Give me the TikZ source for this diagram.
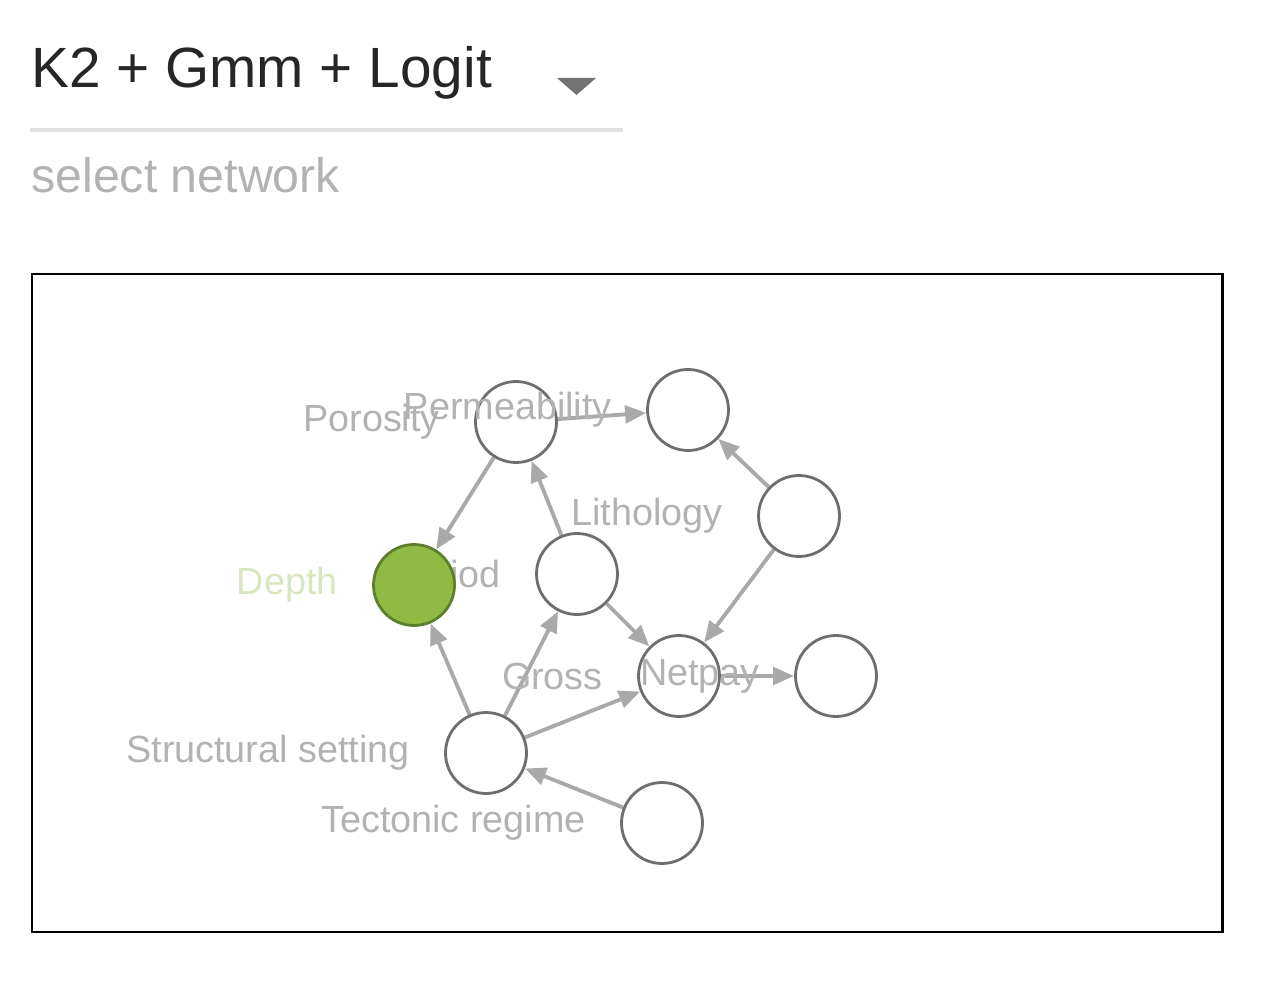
\documentclass[tikz,border=0pt]{standalone}
\usepackage{fontspec}
\setmainfont{Liberation Sans}
\usetikzlibrary{positioning,arrows.meta}

\definecolor{edgegray}{HTML}{A9A9A9}
\definecolor{rimgray}{HTML}{6E6E6E}
\definecolor{textgray}{HTML}{B2B2B2}
\definecolor{leaf}{HTML}{8FBA43}
\definecolor{leafrim}{HTML}{5E7F2C}
\definecolor{leaftext}{HTML}{D8E6BF}

\pgfdeclarelayer{background}
\pgfsetlayers{background,main}

\tikzset{
  var/.style={circle, draw=rimgray, fill=white, line width=1.6pt, minimum size=1.62cm, inner sep=0pt},
  lbl/.style={inner sep=0pt, text=textgray, font=\fontsize{21.5}{24}\selectfont},
}

\begin{document}
\begin{tikzpicture}[x=0.02cm, y=-0.02cm, >={Triangle[length=12pt,width=10pt]}]
\useasboundingbox (0,0) rectangle (1274,996);
%%%

% network selector
\node (title) [anchor=base west, inner sep=0pt, text=black!85, font=\fontsize{32.3}{40}\selectfont] at (31,88) {K2 + Gmm + Logit};
\fill[color=black!55] (557,78) -- (596,78) -- (576.5,95) -- cycle;  % drop down
\draw[color=black!12, line width=2pt] (30,130) -- (623,130);
\node (hint) [anchor=base west, inner sep=0pt, text=textgray, font=\fontsize{27.5}{32}\selectfont] at (31,193) {select network};

% graph box
\draw[color=black, line width=1.7pt] (32,274) rectangle (1222,932);

% variables
\node[var] (P) at (516,422) {};
\node[lbl] (Pl) [left=0.68cm of P] {Porosity};

\node[var] (K) at (688,410) {};
\node[lbl] (Kl) [left=0.68cm of K] {Permeability};

\node[var] (Pe) at (577,574) {};
\node[lbl] (Pel) [left=0.68cm of Pe] {Period};

\node[var, draw=leafrim, fill=leaf] (D) at (414,585) {};
\node[lbl, text=leaftext] (Dl) [left=0.68cm of D] {Depth};

\node[var] (Li) at (799,516) {};
\node[lbl] (Lil) [left=0.68cm of Li] {Lithology};

\node[var] (G) at (679,676) {};
\node[lbl] (Gl) [left=0.68cm of G] {Gross};

\node[var] (N) at (836,676) {};
\node[lbl] (Nl) [left=0.68cm of N] {Netpay};

\node[var] (S) at (486,753) {};
\node[lbl] (Sl) [left=0.68cm of S] {Structural setting};

\node[var] (T) at (662,823) {};
\node[lbl] (Tl) [left=0.68cm of T] {Tectonic regime};

% arrows
\begin{pgfonlayer}{background}
\begin{scope}[color=edgegray, line width=2.2pt]
  \draw[->] (P) -- (K);
  \draw[->] (Li) -- (K);
  \draw[->] (P) -- (D);
  \draw[->] (Pe) -- (P);
  \draw[->] (Pe) -- (G);
  \draw[->] (Li) -- (G);
  \draw[->] (G) -- (N);
  \draw[->] (S) -- (D);
  \draw[->] (S) -- (Pe);
  \draw[->] (S) -- (G);
  \draw[->] (T) -- (S);
\end{scope}
\end{pgfonlayer}
%%%

\end{tikzpicture}
\end{document}
